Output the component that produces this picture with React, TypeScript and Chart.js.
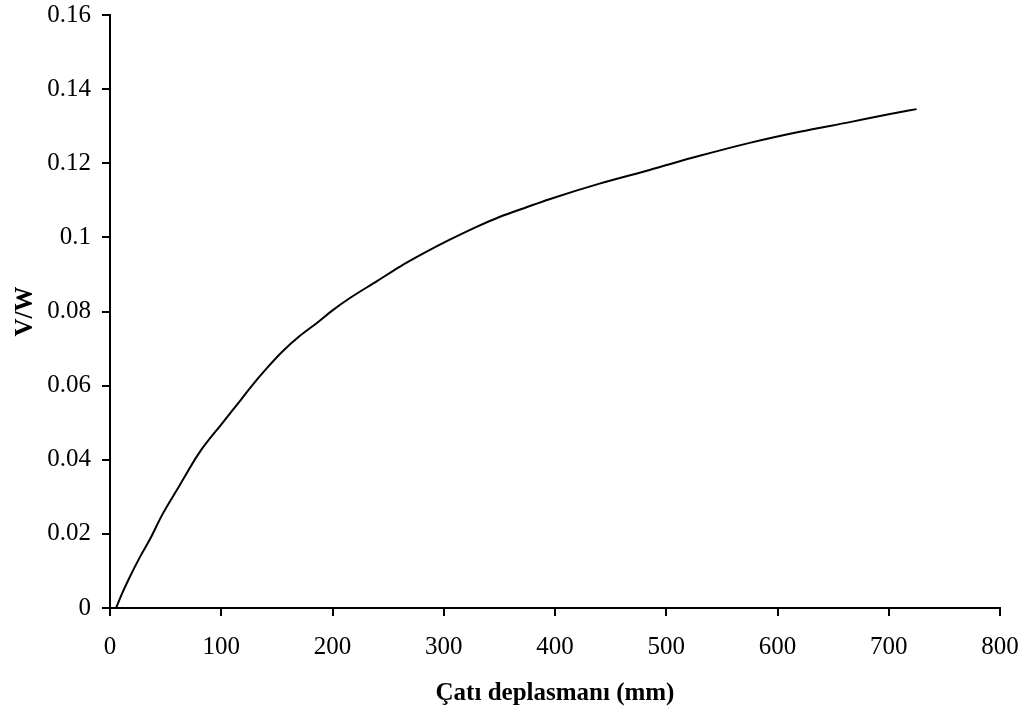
import React, { useEffect, useRef } from "react";
import { Chart, registerables } from "chart.js";

Chart.register(...registerables);

// Roof displacement (mm)
const dispMm = [5.5, 11, 18, 27, 36, 47, 62, 80, 101, 110, 118, 126, 141, 155, 171, 186, 200, 215, 240, 260, 285, 305, 330, 350, 375, 395, 440, 485, 530, 575, 620, 665, 700, 725];
// V/W values
const vw = [0, 0.004, 0.0085, 0.0138, 0.0186, 0.0252, 0.0328, 0.0418, 0.0499, 0.0533, 0.0563, 0.0594, 0.0647, 0.0692, 0.0735, 0.0769, 0.0803, 0.0835, 0.0882, 0.092, 0.0962, 0.0993, 0.1029, 0.1055, 0.1082, 0.1103, 0.1145, 0.1182, 0.122, 0.1255, 0.1285, 0.1311, 0.1332, 0.1346];

const xTitle = "Çatı deplasmanı (mm)";
const yTitle = "V/W";

export default function App() {
  const ref = useRef<HTMLCanvasElement | null>(null);

  useEffect(() => {
    document.body.style.margin = "0";
    const canvas = ref.current;
    if (!canvas) return;
    const points = dispMm.map((x, i) => ({ x, y: vw[i] }));
    const tickFont = { family: "'Liberation Serif', 'Times New Roman', serif", size: 25 };
    const titleFont = { family: "'Liberation Serif', 'Times New Roman', serif", size: 25, weight: "bold" as const };
    const chart = new Chart(canvas, {
      type: "scatter",
      data: {
        datasets: [
          {
            data: points,
            showLine: true,
            borderColor: "#000",
            borderWidth: 2,
            pointRadius: 0,
            cubicInterpolationMode: "monotone",
          },
        ],
      },
      options: {
        responsive: false,
        animation: false,
        layout: { padding: { top: 15, right: 31, bottom: 0, left: 0 } },
        plugins: { legend: { display: false }, tooltip: { enabled: false } },
        scales: {
          x: {
            type: "linear",
            min: 0,
            max: 800,
            afterFit: (s: any) => {
              s.height = 104;
              s.paddingLeft = 0;
              s.paddingRight = 0;
            },
            ticks: { stepSize: 100, color: "#000", font: tickFont, padding: 16, maxRotation: 0 },
            grid: { drawOnChartArea: false, drawTicks: true, tickLength: 8, color: "#000", lineWidth: 2 },
            border: { color: "#000", width: 2 },
            title: { display: true, text: xTitle, color: "#000", font: titleFont, padding: { top: 0, bottom: 3 } },
          },
          y: {
            type: "linear",
            min: 0,
            max: 0.16,
            afterFit: (s: any) => {
              s.width = 110;
              s.paddingTop = 0;
              s.paddingBottom = 0;
            },
            ticks: {
              stepSize: 0.02,
              color: "#000",
              font: tickFont,
              padding: 11,
              callback: (v: any) => String(+Number(v).toFixed(2)),
            },
            grid: { drawOnChartArea: false, drawTicks: true, tickLength: 8, color: "#000", lineWidth: 2 },
            border: { color: "#000", width: 2 },
            title: { display: true, text: yTitle, color: "#000", font: titleFont, padding: { top: 11, bottom: 0 } },
          },
        },
      },
    });
    return () => chart.destroy();
  }, []);

  return (
    <div style={{ position: "absolute", left: 0, top: 0, width: 1031, height: 712, background: "#fff" }}>
      <canvas ref={ref} width={1031} height={712} style={{ display: "block" }} />
    </div>
  );
}
